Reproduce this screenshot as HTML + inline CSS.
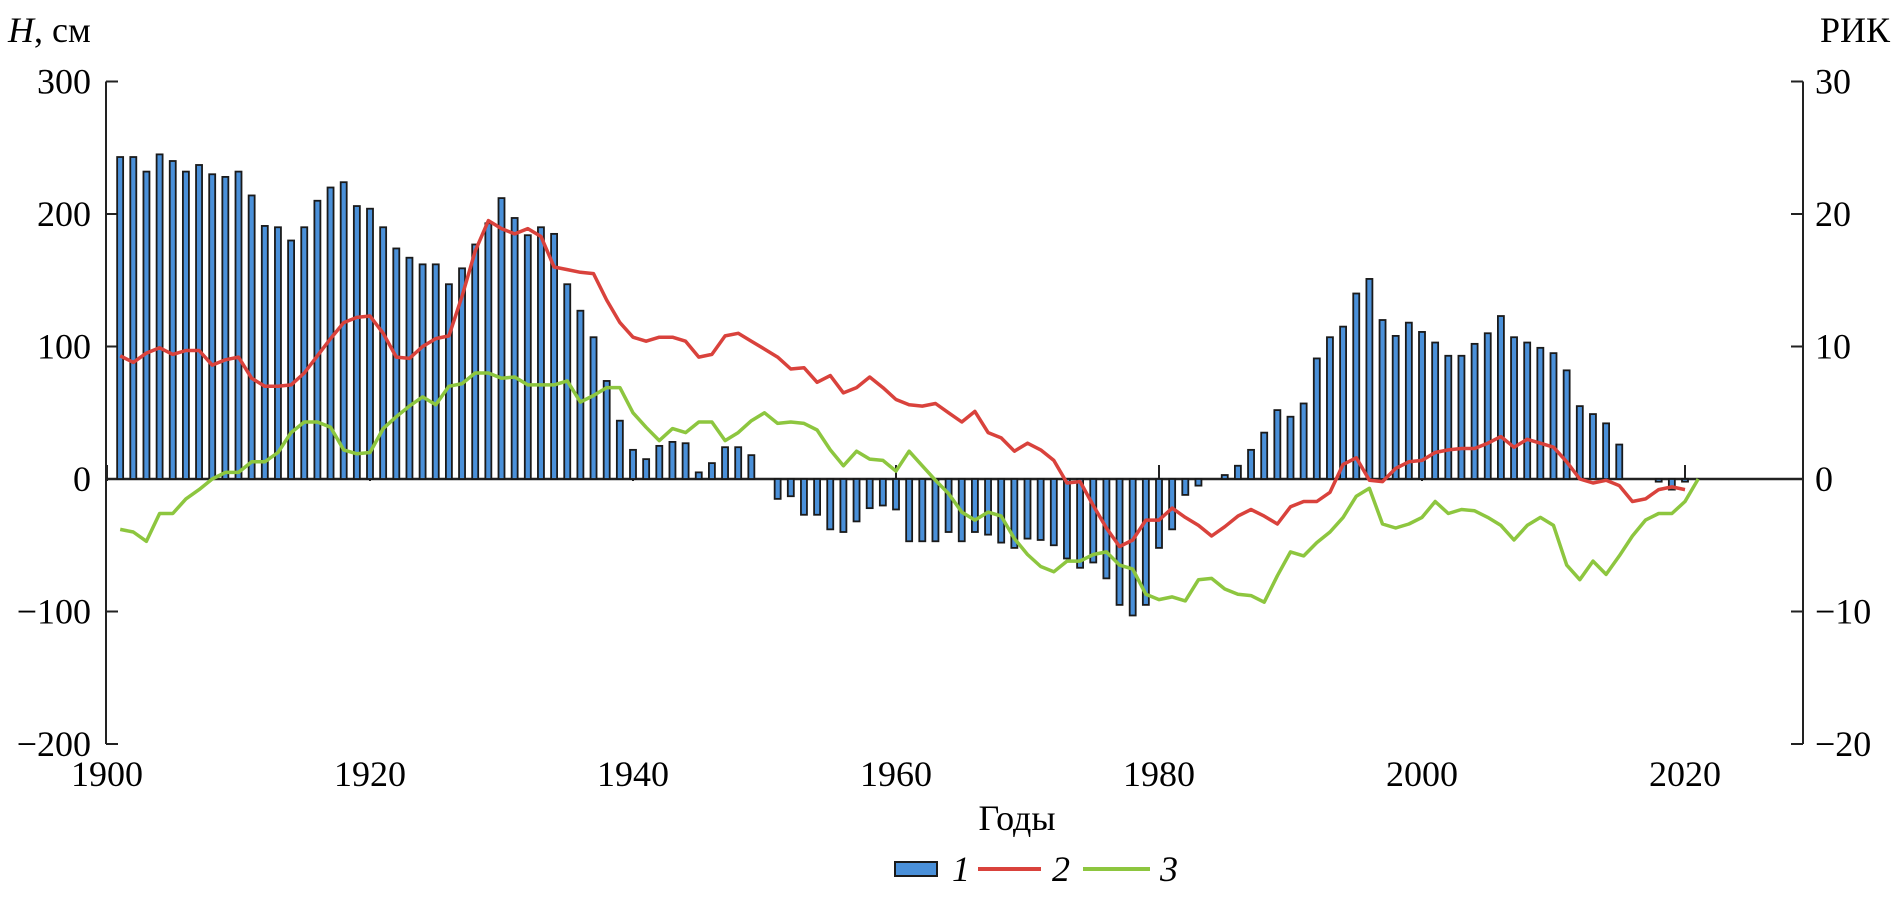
<!DOCTYPE html>
<html><head><meta charset="utf-8"><style>
html,body{margin:0;padding:0;background:#fff;}
svg{display:block;font-family:"Liberation Serif",serif;}
</style></head><body>
<svg id="chart" width="1898" height="897" xmlns="http://www.w3.org/2000/svg">
<g id="axes"></g>
<g id="bars"></g>
<g id="lines"></g>
<text x="8" y="42" font-size="36"><tspan font-style="italic">H</tspan>, см</text>
<text x="1890" y="42" font-size="36" text-anchor="end">РИК</text>
<text x="1017" y="830" font-size="36" text-anchor="middle">Годы</text>
<g>
<g><rect x="895" y="862" width="42" height="14" fill="#4a90d9" stroke="#1a1a1a" stroke-width="2"/><text x="952" y="881" font-size="36" font-style="italic">1</text></g>
<g><line x1="978" y1="869" x2="1041" y2="869" stroke="#d9423c" stroke-width="4"/><text x="1052" y="881" font-size="36" font-style="italic">2</text></g>
<g><line x1="1083" y1="869" x2="1150" y2="869" stroke="#8dc63f" stroke-width="4"/><text x="1160" y="881" font-size="36" font-style="italic">3</text></g>
</g>
</svg>
<script>
const startYear = 1901;
const barValues = [243,243,232,245,240,232,237,230,228,232,214,191,190,180,190,210,220,224,206,204,190,174,167,162,162,147,159,177,193,212,197,184,190,185,147,127,107,74,44,22,15,25,28,27,5,12,24,24,18,0,-15,-13,-27,-27,-38,-40,-32,-22,-20,-23,-47,-47,-47,-40,-47,-40,-42,-48,-52,-45,-46,-50,-60,-67,-63,-75,-95,-103,-95,-52,-38,-12,-5,0,3,10,22,35,52,47,57,91,107,115,140,151,120,108,118,111,103,93,93,102,110,123,107,103,99,95,82,55,49,42,26,0,0,-2,-8,-2];
const redValues = [9.3,8.8,9.5,9.9,9.4,9.7,9.7,8.6,9.0,9.2,7.6,7.0,7.0,7.1,8.0,9.3,10.6,11.8,12.2,12.3,11.0,9.2,9.1,10.0,10.6,10.8,13.8,17.2,19.5,18.9,18.5,18.9,18.3,16.0,15.8,15.6,15.5,13.5,11.8,10.7,10.4,10.7,10.7,10.4,9.2,9.4,10.8,11.0,10.4,9.8,9.2,8.3,8.4,7.3,7.8,6.5,6.9,7.7,6.9,6.0,5.6,5.5,5.7,5.0,4.3,5.1,3.5,3.1,2.1,2.7,2.2,1.4,-0.3,-0.2,-2.0,-3.7,-5.1,-4.6,-3.1,-3.1,-2.2,-2.9,-3.5,-4.3,-3.6,-2.8,-2.3,-2.8,-3.4,-2.1,-1.7,-1.7,-1.0,1.1,1.6,-0.1,-0.2,0.8,1.3,1.4,2.0,2.2,2.3,2.3,2.7,3.2,2.4,3.0,2.7,2.4,1.3,0,-0.3,-0.1,-0.5,-1.7,-1.5,-0.8,-0.6,-0.8];
const greenValues = [-3.8,-4.0,-4.7,-2.6,-2.6,-1.5,-0.8,0,0.5,0.5,1.3,1.3,2.0,3.5,4.3,4.3,3.9,2.2,1.9,2.0,3.8,4.7,5.5,6.2,5.6,7.0,7.2,8.0,8.0,7.6,7.7,7.1,7.1,7.1,7.4,5.8,6.3,6.9,6.9,5.0,3.9,2.9,3.8,3.5,4.3,4.3,2.9,3.5,4.4,5.0,4.2,4.3,4.2,3.7,2.2,1.0,2.1,1.5,1.4,0.6,2.1,1.0,-0.1,-1.1,-2.5,-3.1,-2.5,-2.8,-4.5,-5.7,-6.6,-7.0,-6.2,-6.2,-5.7,-5.5,-6.5,-6.8,-8.7,-9.1,-8.9,-9.2,-7.6,-7.5,-8.3,-8.7,-8.8,-9.3,-7.3,-5.5,-5.8,-4.8,-4.0,-2.9,-1.3,-0.7,-3.4,-3.7,-3.4,-2.9,-1.7,-2.6,-2.3,-2.4,-2.9,-3.5,-4.6,-3.5,-2.9,-3.5,-6.5,-7.6,-6.2,-7.2,-5.8,-4.3,-3.1,-2.6,-2.6,-1.7,0];
const xTicks = [1900,1920,1940,1960,1980,2000,2020];
const leftTicks = [300,200,100,0,-100,-200];
const rightTicks = [30,20,10,0,-10,-20];

const NS="http://www.w3.org/2000/svg";
const X0=107, XS=13.15, LEFT=106, RIGHT=1803, Y0=479, YT=81.5, YB=744;
function x(yr){return X0+XS*(yr-1900);}
function yL(v){return Y0-(Y0-YT)*v/300;}
function yR(v){return Y0-(Y0-YT)*v/30;}
function mk(tag,attrs,parent){const e=document.createElementNS(NS,tag);for(const k in attrs)e.setAttribute(k,attrs[k]);parent.appendChild(e);return e;}
const axes=document.getElementById('axes');
let e;
e=mk('line',{x1:LEFT,y1:YT,x2:LEFT,y2:YB,stroke:'#222','stroke-width':2},axes);


e=mk('line',{x1:RIGHT,y1:YT,x2:RIGHT,y2:YB,stroke:'#222','stroke-width':2},axes);


leftTicks.forEach(v=>{
  mk('line',{x1:LEFT,y1:yL(v),x2:LEFT+12,y2:yL(v),stroke:'#222','stroke-width':2},axes);
  e=mk('text',{x:91,y:yL(v)+12,'font-size':36,'text-anchor':'end'},axes);
  e.textContent=(v<0?'\u2212':'')+Math.abs(v);
  
  
});
rightTicks.forEach(v=>{
  mk('line',{x1:RIGHT-12,y1:yR(v),x2:RIGHT,y2:yR(v),stroke:'#222','stroke-width':2},axes);
  e=mk('text',{x:1815,y:yR(v)+12,'font-size':36},axes);
  e.textContent=(v<0?'\u2212':'')+Math.abs(v);
  
  
});
xTicks.forEach(t=>{
  mk('line',{x1:x(t),y1:Y0-14,x2:x(t),y2:Y0+2,stroke:'#222','stroke-width':2},axes);
  e=mk('text',{x:x(t),y:786,'font-size':36,'text-anchor':'middle'},axes);
  e.textContent=t;
  
  
});
const bars=document.getElementById('bars');
barValues.forEach((v,i)=>{
  const cx=x(startYear+i), y1=yL(Math.max(v,0)), y2=yL(Math.min(v,0));
  if(Math.abs(y2-y1)<1) return;
  const r=mk('rect',{x:cx-3,y:y1,width:6,height:y2-y1,fill:'#4a90d9',stroke:'#1a1a1a','stroke-width':1.8},bars);
  
  
});
e=mk('line',{x1:LEFT,y1:Y0,x2:RIGHT,y2:Y0,stroke:'#222','stroke-width':2.5},axes);


const lines=document.getElementById('lines');
function path(vals){return vals.map((v,i)=>(i?'L':'M')+x(startYear+i).toFixed(1)+','+yR(v).toFixed(1)).join(' ');}
e=mk('path',{d:path(redValues),fill:'none',stroke:'#d9423c','stroke-width':3.5,'stroke-linejoin':'round'},lines);


e=mk('path',{d:path(greenValues),fill:'none',stroke:'#8dc63f','stroke-width':3.5,'stroke-linejoin':'round'},lines);


</script>
</body></html>
